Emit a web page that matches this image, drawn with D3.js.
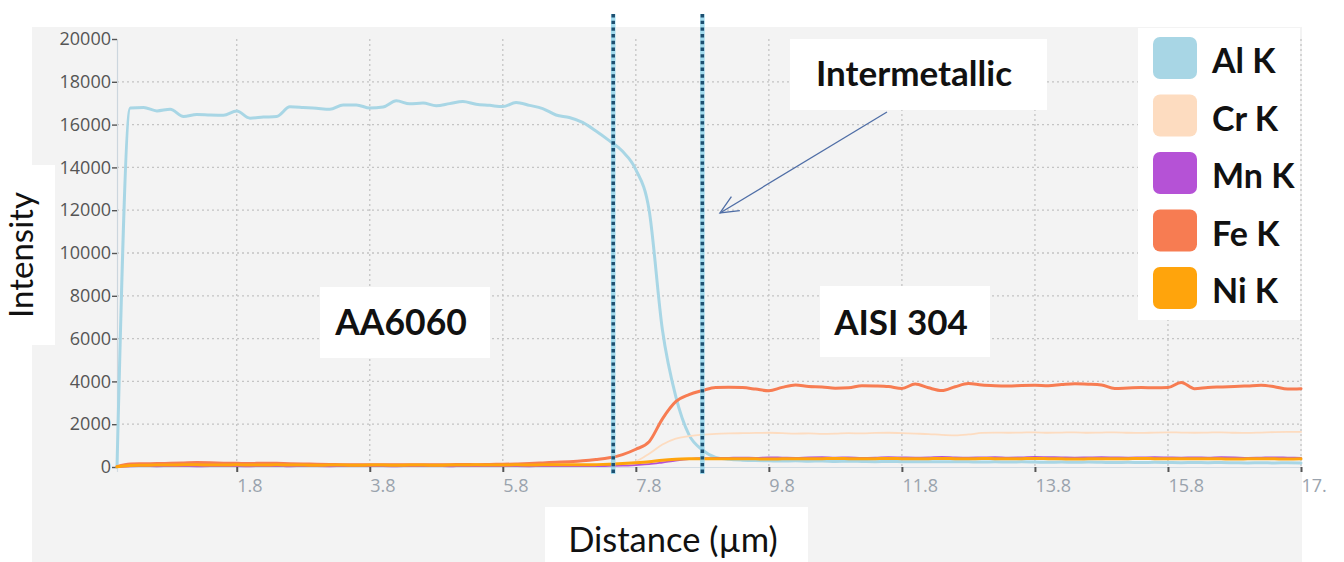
<!DOCTYPE html>
<html>
<head>
<meta charset="utf-8">
<script src="https://cdn.jsdelivr.net/npm/d3@7"></script>
<style>
  html, body { margin: 0; padding: 0; background: #ffffff; }
  svg { display: block; }
</style>
</head>
<body>
<svg id="chart" width="1344" height="562"></svg>
<script>
// EDS line scan across an AA6060 / AISI 304 joint (intensity vs distance)
const distance = [
  0, 0.2, 0.4, 0.6, 0.8, 1.0, 1.2, 1.4, 1.6, 1.8,
  2.0, 2.2, 2.4, 2.6, 2.8, 3.0, 3.2, 3.4, 3.6, 3.8,
  4.0, 4.2, 4.4, 4.6, 4.8, 5.0, 5.2, 5.4, 5.6, 5.8,
  6.0, 6.2, 6.4, 6.6, 6.8, 7.0, 7.2, 7.4, 7.6, 7.8,
  8.0, 8.2, 8.4, 8.6, 8.8, 9.0, 9.2, 9.4, 9.6, 9.8,
  10.0, 10.2, 10.4, 10.6, 10.8, 11.0, 11.2, 11.4, 11.6, 11.8,
  12.0, 12.2, 12.4, 12.6, 12.8, 13.0, 13.2, 13.4, 13.6, 13.8,
  14.0, 14.2, 14.4, 14.6, 14.8, 15.0, 15.2, 15.4, 15.6, 15.8,
  16.0, 16.2, 16.4, 16.6, 16.8, 17.0, 17.2, 17.4, 17.6, 17.8
];

const alK = [
  0, 16780, 16800, 16640, 16720, 16380, 16470, 16450, 16440, 16630,
  16300, 16350, 16380, 16830, 16800, 16760, 16720, 16920, 16920, 16770,
  16820, 17110, 16970, 17010, 16880, 16980, 17080, 16950, 16900, 16840,
  17030, 16900, 16750, 16450, 16330, 16100, 15700, 15250, 14750, 13900,
  12000, 6400, 3300, 1500, 800, 450, 360, 320, 300, 290,
  280, 290, 270, 280, 260, 270, 260, 250, 260, 250,
  240, 250, 240, 250, 240, 230, 240, 230, 240, 230,
  220, 230, 220, 230, 220, 210, 220, 210, 220, 210,
  200, 210, 200, 210, 200, 190, 200, 190, 200, 190
];

const crK = [
  0, 40, 40, 45, 40, 35, 40, 45, 40, 40,
  35, 40, 40, 45, 40, 40, 35, 40, 40, 45,
  40, 40, 35, 40, 45, 40, 40, 35, 40, 40,
  45, 40, 40, 45, 40, 45, 50, 60, 110, 250,
  620, 1050, 1330, 1440, 1510, 1550, 1570, 1580, 1590, 1600,
  1580, 1560, 1570, 1550, 1560, 1580, 1570, 1590, 1600, 1580,
  1560, 1540, 1500, 1480, 1520, 1590, 1610, 1600, 1610, 1620,
  1600, 1610, 1620, 1600, 1610, 1620, 1600, 1590, 1610, 1620,
  1610, 1600, 1610, 1620, 1600, 1590, 1610, 1630, 1640, 1640
];

const mnK = [
  0, 35, 40, 35, 45, 40, 35, 40, 45, 40,
  35, 40, 40, 35, 45, 40, 35, 40, 40, 45,
  40, 35, 40, 45, 40, 35, 40, 40, 45, 40,
  40, 35, 45, 40, 40, 45, 40, 50, 60, 90,
  130, 210, 300, 370, 410, 420, 430, 440, 430, 450,
  440, 430, 450, 460, 440, 450, 430, 440, 460, 450,
  440, 450, 470, 450, 440, 450, 460, 440, 450, 470,
  460, 450, 440, 450, 460, 450, 440, 450, 460, 450,
  440, 450, 440, 460, 450, 430, 440, 450, 440, 430
];

const feK = [
  20, 140, 150, 160, 170, 190, 210, 200, 180, 170,
  160, 180, 170, 150, 140, 130, 120, 110, 110, 100,
  110, 100, 110, 100, 110, 110, 120, 110, 120, 130,
  140, 160, 190, 220, 250, 290, 350, 430, 580, 830,
  1180, 2250, 3050, 3380, 3570, 3720, 3730, 3710, 3640, 3560,
  3720, 3830, 3760, 3740, 3680, 3700, 3800, 3790, 3760, 3670,
  3880, 3700, 3570, 3750, 3900, 3830, 3800, 3790, 3810, 3820,
  3800, 3850, 3890, 3870, 3830, 3670, 3690, 3710, 3700, 3710,
  3950, 3660, 3720, 3740, 3760, 3790, 3820, 3750, 3640, 3660
];

const niK = [
  10, 70, 80, 90, 90, 100, 100, 90, 90, 100,
  90, 90, 100, 90, 90, 80, 90, 90, 80, 90,
  90, 80, 90, 90, 80, 90, 90, 100, 90, 90,
  100, 90, 100, 100, 110, 100, 110, 130, 160, 200,
  250, 320, 360, 380, 390, 380, 380, 390, 380, 370,
  380, 390, 380, 390, 400, 390, 380, 390, 400, 390,
  380, 390, 400, 390, 380, 400, 390, 380, 390, 400,
  390, 380, 370, 380, 390, 380, 390, 400, 390, 380,
  390, 380, 390, 380, 370, 380, 390, 380, 370, 380
];

const seriesNames = ["Al K", "Cr K", "Mn K", "Fe K", "Ni K"];
const seriesValues = [alK, crK, mnK, feK, niK];
const seriesColors = ["#a8d6e5", "#fddcc0", "#b552d6", "#f77c52", "#ffa40c"];
const seriesWidths = [3, 1.8, 1.8, 3, 3];

const xTicks = [1.8, 3.8, 5.8, 7.8, 9.8, 11.8, 13.8, 15.8, 17.8];
const yTicks = [0, 2000, 4000, 6000, 8000, 10000, 12000, 14000, 16000, 18000, 20000];
const boundaries = [7.46, 8.8];          // interface positions (µm)
const regionLabels = ["AA6060", "AISI 304"];
const calloutLabel = "Intermetallic";
const xTitle = "Distance (µm)";
const yTitle = "Intensity";

const svg = d3.select("#chart");

const x = d3.scaleLinear().domain([0, 17.8]).range([117, 1301]);
const y = d3.scaleLinear().domain([0, 20000]).range([467, 39]);

// grey chart panel
svg.append("rect")
  .attr("x", 32).attr("y", 27).attr("width", 1270).attr("height", 535)
  .attr("fill", "#f3f3f3");

// grid
const grid = svg.append("g").attr("stroke", "#c4c4c4").attr("stroke-width", 1.3)
  .attr("stroke-dasharray", "2,3");
grid.selectAll("line.h").data(yTicks.filter(v => v > 0 && v < 20000)).join("line")
  .attr("class", "h")
  .attr("x1", x(0)).attr("x2", 1302)
  .attr("y1", d => y(d)).attr("y2", d => y(d));
grid.selectAll("line.v").data(xTicks).join("line")
  .attr("class", "v")
  .attr("x1", d => x(d)).attr("x2", d => x(d))
  .attr("y1", y(20000)).attr("y2", y(0));

// axes
const yAxis = svg.append("g")
  .attr("transform", `translate(${x(0)},0)`)
  .call(d3.axisLeft(y).tickValues(yTicks).tickSize(5).tickPadding(1).tickFormat(d3.format("d")));
yAxis.select(".domain").attr("stroke", "#ccd6de").attr("stroke-width", 1.2);
yAxis.selectAll(".tick line").attr("stroke", "#555").attr("stroke-width", 1.4);
yAxis.selectAll(".tick text")
  .attr("fill", "#555")
  .style("font-family", "'Open Sans', sans-serif")
  .style("font-size", "18px");

// the axis is cut off at the right edge of the frame
svg.append("defs").append("clipPath").attr("id", "xclip")
  .append("rect").attr("x", 0).attr("y", 0).attr("width", 1327).attr("height", 562);

const xAxis = svg.append("g").attr("clip-path", "url(#xclip)")
  .append("g")
  .attr("transform", `translate(0,${y(0)})`)
  .call(d3.axisBottom(x).tickValues(xTicks).tickSize(5).tickPadding(7).tickFormat(d3.format(".1f")));
xAxis.select(".domain").attr("stroke", "#d3dce3").attr("stroke-width", 1.2);
xAxis.selectAll(".tick line").attr("stroke", "#555").attr("stroke-width", 2);
xAxis.selectAll(".tick text")
  .attr("fill", "#9aa3ad")
  .attr("text-anchor", "start")
  .attr("x", 0)
  .style("font-family", "'Open Sans', sans-serif")
  .style("font-size", "18px");

// element profiles
const line = d3.line()
  .x((d, i) => x(distance[i]))
  .y(d => y(d))
  .curve(d3.curveMonotoneX);

svg.append("g").selectAll("path")
  .data(seriesValues)
  .join("path")
  .attr("d", d => line(d))
  .attr("fill", "none")
  .attr("stroke", (d, i) => seriesColors[i])
  .attr("stroke-width", (d, i) => seriesWidths[i])
  .attr("stroke-linejoin", "round")
  .attr("stroke-linecap", "round");

// white label boxes
const boxes = [
  [0, 165, 55, 180],      // y title
  [545, 507, 263, 55],    // x title
  [1138, 28, 162, 292],   // legend
  [790, 39, 257, 71],     // callout
  [320, 287, 170, 71],    // left region
  [820, 286, 170, 71]     // right region
];
svg.append("g").selectAll("rect").data(boxes).join("rect")
  .attr("x", d => d[0]).attr("y", d => d[1])
  .attr("width", d => d[2]).attr("height", d => d[3])
  .attr("fill", "#ffffff");

// axis titles
svg.append("text")
  .attr("transform", "translate(33,255) rotate(-90)")
  .attr("text-anchor", "middle")
  .style("font-family", "Lato, sans-serif")
  .style("font-size", "33px")
  .attr("fill", "#111")
  .text(yTitle);

svg.append("text")
  .attr("x", 673).attr("y", 552)
  .attr("text-anchor", "middle")
  .style("font-family", "Lato, sans-serif")
  .style("font-size", "34.5px")
  .attr("fill", "#111")
  .text(xTitle);

// region and callout labels
const boldText = (sel) => sel
  .style("font-family", "Lato, sans-serif")
  .style("font-weight", "bold")
  .attr("fill", "#111");

svg.append("text").attr("x", 401).attr("y", 335).attr("text-anchor", "middle")
  .call(boldText).style("font-size", "35.5px").text(regionLabels[0]);
svg.append("text").attr("x", 901).attr("y", 335).attr("text-anchor", "middle")
  .call(boldText).style("font-size", "35px").text(regionLabels[1]);
svg.append("text").attr("x", 914).attr("y", 86).attr("text-anchor", "middle")
  .call(boldText).style("font-size", "35px").text(calloutLabel);

// legend
const legend = svg.append("g").selectAll("g")
  .data(seriesNames)
  .join("g")
  .attr("transform", (d, i) => `translate(1153,${37 + i * 57.5})`);
legend.append("rect")
  .attr("width", 44).attr("height", 42).attr("rx", 7)
  .attr("fill", (d, i) => seriesColors[i]);
legend.append("text")
  .attr("x", 59).attr("y", 36)
  .call(boldText).style("font-size", "34px")
  .text(d => d);

// interface markers
const markers = svg.append("g");
markers.selectAll("line.glow").data(boundaries).join("line")
  .attr("class", "glow")
  .attr("x1", d => x(d)).attr("x2", d => x(d))
  .attr("y1", 14).attr("y2", 474)
  .attr("stroke", "#86d2ec").attr("stroke-width", 4.5).attr("opacity", 0.75);
markers.selectAll("line.dot").data(boundaries).join("line")
  .attr("class", "dot")
  .attr("x1", d => x(d)).attr("x2", d => x(d))
  .attr("y1", 14).attr("y2", 474)
  .attr("stroke", "#1d4f70").attr("stroke-width", 3.5)
  .attr("stroke-dasharray", "3.4,3.3");

// callout arrow
const tip = [720, 213], tail = [887, 112];
const ang = Math.atan2(tail[1] - tip[1], tail[0] - tip[0]);
const head = 20, spread = 0.42;
const arrow = svg.append("g").attr("stroke", "#4f6ea6").attr("stroke-width", 1.3)
  .attr("fill", "none");
arrow.append("line").attr("x1", tail[0]).attr("y1", tail[1]).attr("x2", tip[0]).attr("y2", tip[1]);
arrow.append("path").attr("d",
  `M${tip[0] + head * Math.cos(ang - spread)},${tip[1] + head * Math.sin(ang - spread)}` +
  `L${tip[0]},${tip[1]}` +
  `L${tip[0] + head * Math.cos(ang + spread)},${tip[1] + head * Math.sin(ang + spread)}`);
</script>
</body>
</html>
